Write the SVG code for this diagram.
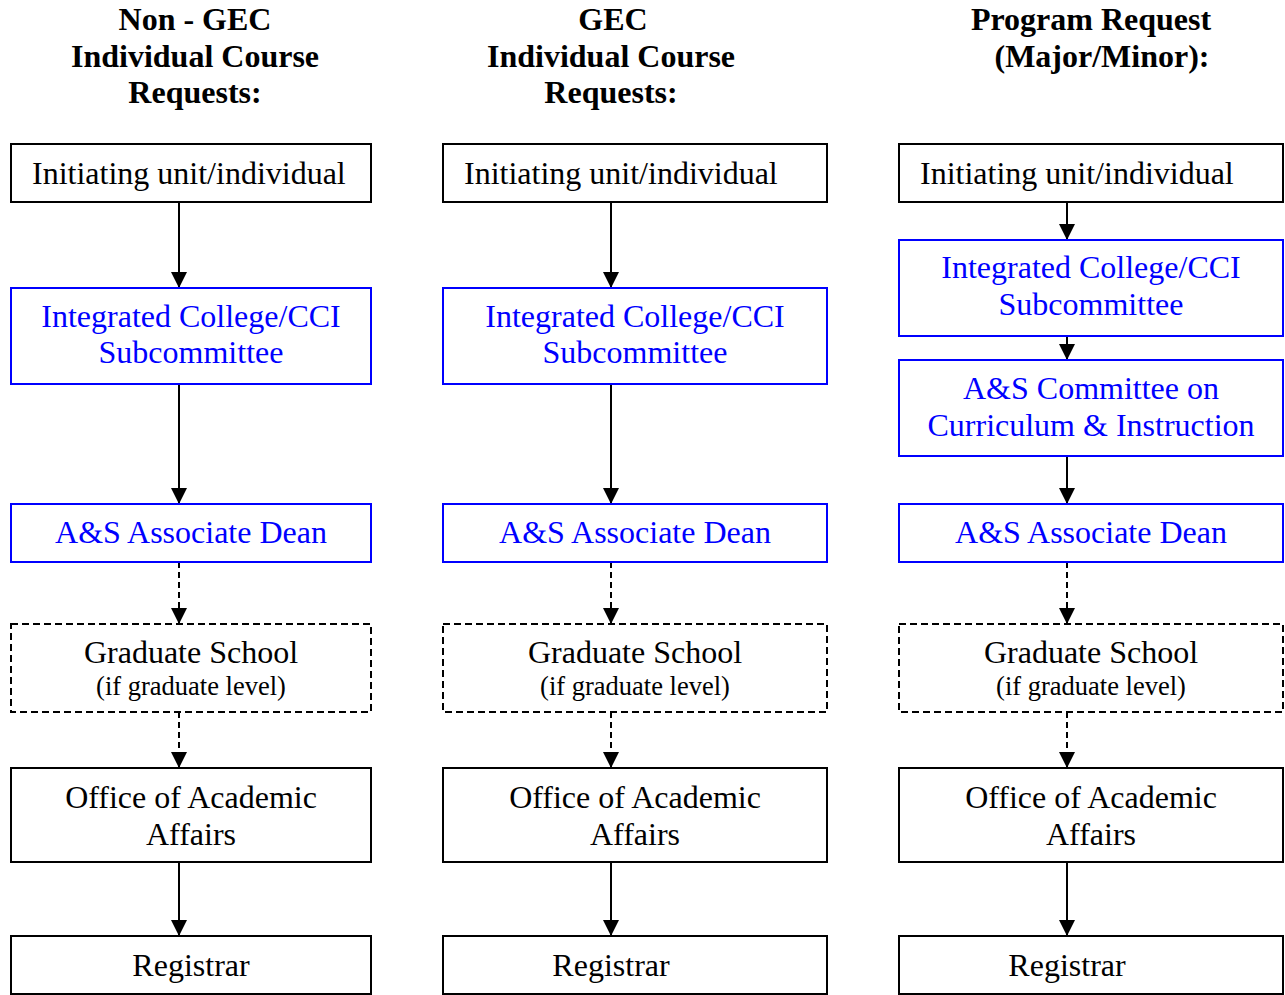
<svg xmlns="http://www.w3.org/2000/svg" width="1285" height="995" viewBox="0 0 1285 995">
<style>
  .box { fill: #ffffff; stroke: #000000; stroke-width: 2; }
  .blue { fill: #ffffff; stroke: #0000ff; stroke-width: 2; }
  .dbox { fill: #ffffff; stroke: #000000; stroke-width: 2; stroke-dasharray: 7 4; }
  .t { font-family: "Liberation Serif", "Times New Roman", serif; font-size: 32px; fill: #000000; text-anchor: middle; }
  .ts { text-anchor: start; }
  .tb { fill: #0000ff; }
  .small { font-size: 26.5px; }
  .h { font-family: "Liberation Serif", "Times New Roman", serif; font-size: 32px; font-weight: bold; fill: #000000; text-anchor: middle; }
  .c { stroke: #000000; stroke-width: 2; fill: none; marker-end: url(#ah); }
  .dash { stroke-dasharray: 6 4; }
</style>
<defs>
  <marker id="ah" viewBox="0 0 16 16" refX="16" refY="8" markerWidth="16" markerHeight="16" markerUnits="userSpaceOnUse" orient="auto">
    <path d="M0,0 L16,8 L0,16 Z" fill="#000000"/>
  </marker>
</defs>
<rect width="1285" height="995" fill="#ffffff"/>

<g id="headers">
  <text class="h" x="195" y="30">Non - GEC</text>
  <text class="h" x="195" y="66.7">Individual Course</text>
  <text class="h" x="195" y="103.3">Requests:</text>
  <text class="h" x="613" y="30">GEC</text>
  <text class="h" x="611" y="66.7">Individual Course</text>
  <text class="h" x="611" y="103.3">Requests:</text>
  <text class="h" x="1091" y="30">Program Request</text>
  <text class="h" x="1102" y="66.7">(Major/Minor):</text>
</g>

<g id="connectors">
  <line class="c" x1="179" y1="202" x2="179" y2="288"/>
  <line class="c" x1="179" y1="384" x2="179" y2="504"/>
  <line class="c dash" x1="179" y1="562" x2="179" y2="624"/>
  <line class="c dash" x1="179" y1="712" x2="179" y2="768"/>
  <line class="c" x1="179" y1="862" x2="179" y2="936"/>

  <line class="c" x1="611" y1="202" x2="611" y2="288"/>
  <line class="c" x1="611" y1="384" x2="611" y2="504"/>
  <line class="c dash" x1="611" y1="562" x2="611" y2="624"/>
  <line class="c dash" x1="611" y1="712" x2="611" y2="768"/>
  <line class="c" x1="611" y1="862" x2="611" y2="936"/>

  <line class="c" x1="1067" y1="202" x2="1067" y2="240"/>
  <line class="c" x1="1067" y1="336" x2="1067" y2="360"/>
  <line class="c" x1="1067" y1="456" x2="1067" y2="504"/>
  <line class="c dash" x1="1067" y1="562" x2="1067" y2="624"/>
  <line class="c dash" x1="1067" y1="712" x2="1067" y2="768"/>
  <line class="c" x1="1067" y1="862" x2="1067" y2="936"/>
</g>

<!-- Column 1 -->
<g id="c1-init"><rect class="box" x="11" y="144" width="360" height="58"/><text class="t ts" x="32" y="184">Initiating unit/individual</text></g>
<g id="c1-integrated"><rect class="blue" x="11" y="288" width="360" height="96"/><text class="t tb" x="191" y="326.7">Integrated College/CCI</text><text class="t tb" x="191" y="363.3">Subcommittee</text></g>
<g id="c1-dean"><rect class="blue" x="11" y="504" width="360" height="58"/><text class="t tb" x="191" y="543.3">A&amp;S Associate Dean</text></g>
<g id="c1-grad"><rect class="dbox" x="11" y="624" width="360" height="88"/><text class="t" x="191" y="663.3">Graduate School</text><text class="t small" x="191" y="695">(if graduate level)</text></g>
<g id="c1-oaa"><rect class="box" x="11" y="768" width="360" height="94"/><text class="t" x="191" y="808">Office of Academic</text><text class="t" x="191" y="845">Affairs</text></g>
<g id="c1-reg"><rect class="box" x="11" y="936" width="360" height="58"/><text class="t" x="191" y="975.5">Registrar</text></g>

<!-- Column 2 -->
<g id="c2-init"><rect class="box" x="443" y="144" width="384" height="58"/><text class="t ts" x="464" y="184">Initiating unit/individual</text></g>
<g id="c2-integrated"><rect class="blue" x="443" y="288" width="384" height="96"/><text class="t tb" x="635" y="326.7">Integrated College/CCI</text><text class="t tb" x="635" y="363.3">Subcommittee</text></g>
<g id="c2-dean"><rect class="blue" x="443" y="504" width="384" height="58"/><text class="t tb" x="635" y="543.3">A&amp;S Associate Dean</text></g>
<g id="c2-grad"><rect class="dbox" x="443" y="624" width="384" height="88"/><text class="t" x="635" y="663.3">Graduate School</text><text class="t small" x="635" y="695">(if graduate level)</text></g>
<g id="c2-oaa"><rect class="box" x="443" y="768" width="384" height="94"/><text class="t" x="635" y="808">Office of Academic</text><text class="t" x="635" y="845">Affairs</text></g>
<g id="c2-reg"><rect class="box" x="443" y="936" width="384" height="58"/><text class="t" x="611" y="975.5">Registrar</text></g>

<!-- Column 3 -->
<g id="c3-init"><rect class="box" x="899" y="144" width="384" height="58"/><text class="t ts" x="920" y="184">Initiating unit/individual</text></g>
<g id="c3-integrated"><rect class="blue" x="899" y="240" width="384" height="96"/><text class="t tb" x="1091" y="278.3">Integrated College/CCI</text><text class="t tb" x="1091" y="315">Subcommittee</text></g>
<g id="c3-committee"><rect class="blue" x="899" y="360" width="384" height="96"/><text class="t tb" x="1091" y="399.3">A&amp;S Committee on</text><text class="t tb" x="1091" y="436">Curriculum &amp; Instruction</text></g>
<g id="c3-dean"><rect class="blue" x="899" y="504" width="384" height="58"/><text class="t tb" x="1091" y="543.3">A&amp;S Associate Dean</text></g>
<g id="c3-grad"><rect class="dbox" x="899" y="624" width="384" height="88"/><text class="t" x="1091" y="663.3">Graduate School</text><text class="t small" x="1091" y="695">(if graduate level)</text></g>
<g id="c3-oaa"><rect class="box" x="899" y="768" width="384" height="94"/><text class="t" x="1091" y="808">Office of Academic</text><text class="t" x="1091" y="845">Affairs</text></g>
<g id="c3-reg"><rect class="box" x="899" y="936" width="384" height="58"/><text class="t" x="1067" y="975.5">Registrar</text></g>
</svg>
